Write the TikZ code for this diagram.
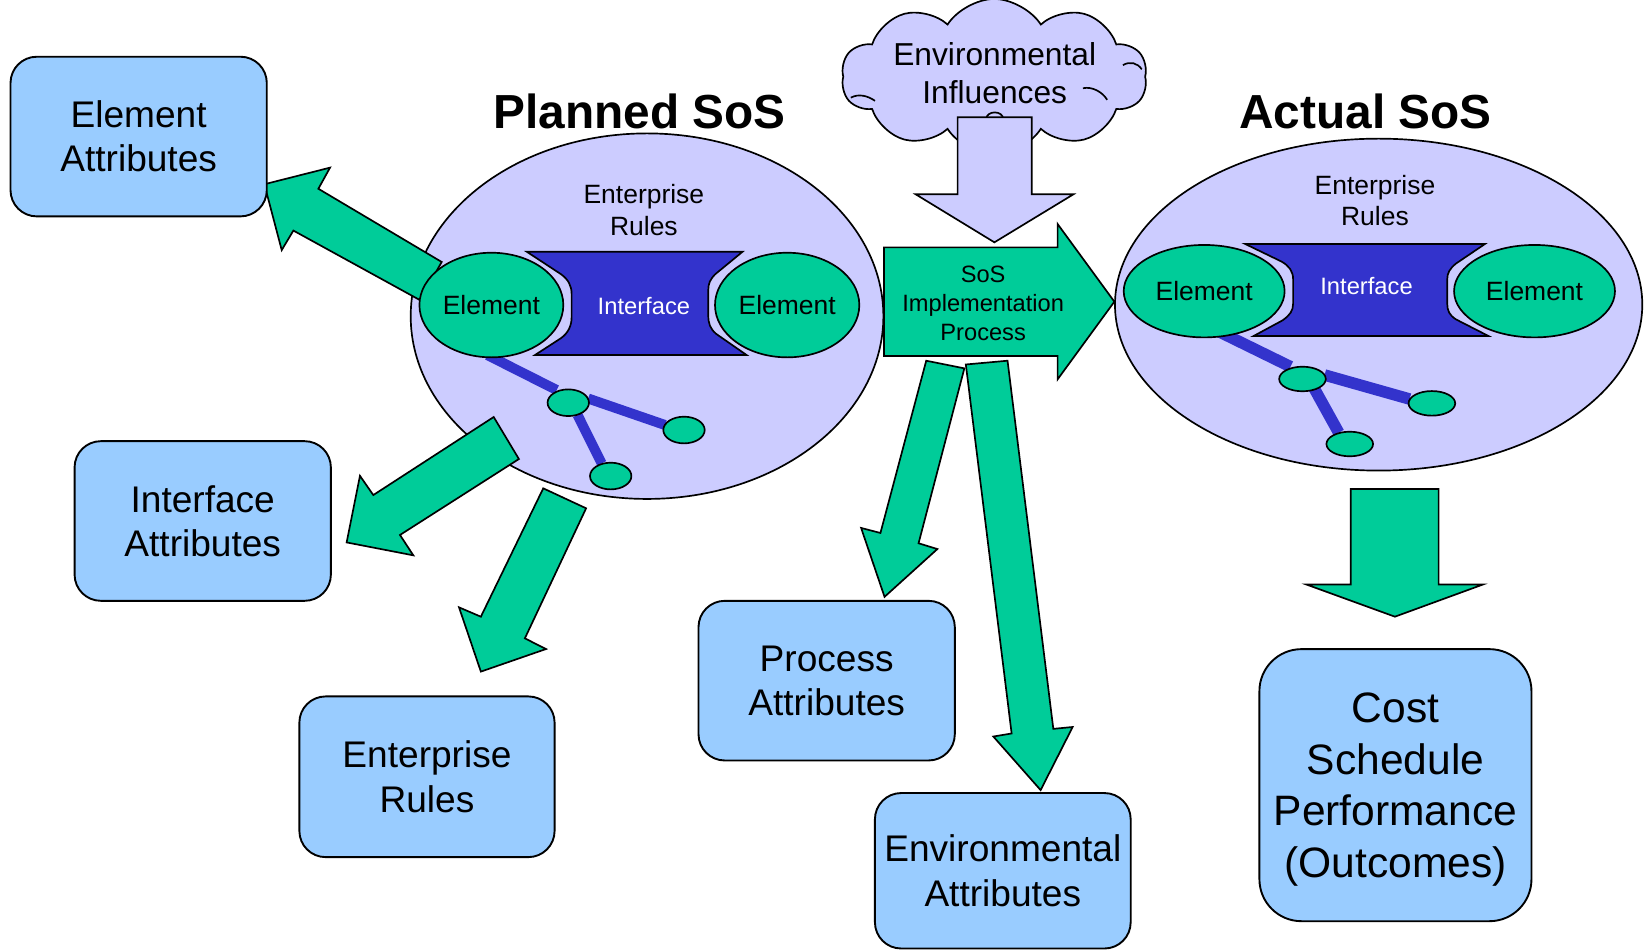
\documentclass[tikz,border=0pt]{standalone}
\usepackage{fontspec}
\setmainfont{Liberation Sans}
\usetikzlibrary{shapes.geometric,shapes.symbols}
\definecolor{boxblue}{HTML}{99CCFF}
\definecolor{sosgreen}{HTML}{00CC99}
\definecolor{lav}{HTML}{CCCCFF}
\definecolor{ifblue}{HTML}{3333CC}
\newcommand\bxfont{\fontsize{17.65}{21}\selectfont}
\newcommand\cstfont{\fontsize{20.25}{24.5}\selectfont}
\newcommand\ttlfont{\fontsize{22.75}{27}\selectfont\bfseries}
\newcommand\smfont{\fontsize{12.6}{15}\selectfont}
\newcommand\iffont{\fontsize{11.3}{13.5}\selectfont}
\newcommand\sosfont{\fontsize{11.25}{13.75}\selectfont}
\newcommand\cldfont{\fontsize{15.1}{18}\selectfont}
\tikzset{
  box/.style={draw=black, line width=0.9pt, fill=boxblue, rounded corners=12.5pt,
    minimum width=122pt, minimum height=76pt, align=center, inner sep=0pt, font=\bxfont},
  bigell/.style={ellipse, draw=black, line width=0.8pt, fill=lav, inner sep=0pt},
  elem/.style={ellipse, draw=black, line width=0.8pt, fill=sosgreen, inner sep=0pt, font=\smfont},
  blockarrow/.style={draw=black, line width=0.8pt, fill=sosgreen},
  lavarrow/.style={draw=black, line width=0.8pt, fill=lav},
  iface/.style={draw=black, line width=0.8pt, fill=ifblue},
  pbar/.style={draw=ifblue, line width=4.75pt, line cap=butt},
  abar/.style={draw=ifblue, line width=5.5pt, line cap=butt},
  lbl/.style={inner sep=0pt, align=center},
  cloudarc/.style={draw=black, line width=0.8pt}
}
\begin{document}
\begin{tikzpicture}[x=0.5pt, y=-0.5pt]
\useasboundingbox (0,0) rectangle (1568,905);

% ---------- Planned SoS ----------
\node[bigell, minimum width=225pt, minimum height=174pt] (planned) at (616,301) {};
% arrows leaving planned SoS
\draw[blockarrow] (420.5,249.4) -- (303.1,179.7) -- (314.2,159.6) -- (251.7,175.4) -- (268.2,238.1) -- (279.3,219.5) -- (399.8,285.7) -- cycle;
\draw[blockarrow] (470,397) -- (355.4,471.3) -- (342.7,453) -- (330,516.4) -- (393.5,528.7) -- (380.8,509.3) -- (494,437) -- cycle;
\draw[blockarrow] (517.2,464.9) -- (457.8,587.1) -- (437,578.2) -- (457.8,639.4) -- (519.8,617.9) -- (499.7,607.7) -- (558,483.9) -- cycle;
% bars
\draw[pbar] (464,338) -- (530,371.3);
\draw[pbar] (560,379.4) -- (633.1,404.6);
\draw[pbar] (549.8,395) -- (572.8,441.1);
% interface
\draw[iface] (501.4,239.6) -- (707,239.6) -- (681,261) .. controls (676,266) and (674.3,270) .. (674.3,276) -- (674.3,300) .. controls (674.3,308) and (676,313) .. (682,318) -- (710.8,338) -- (509.3,338) -- (534,322) .. controls (541,317) and (544.2,310) .. (544.2,302) -- (544.2,280) .. controls (544.2,272) and (541,266) .. (534,261) -- cycle;
\node[lbl, text=white, font=\iffont] (pif) at (613,291) {Interface};
\node[elem, minimum width=68.5pt, minimum height=49.8pt] (pel1) at (467.8,290.4) {Element};
\node[elem, minimum width=68.7pt, minimum height=49.8pt] (pel2) at (749.4,290.4) {Element};
\node[elem, minimum width=19.7pt, minimum height=12.7pt] (ps1) at (541,383.4) {};
\node[elem, minimum width=19.7pt, minimum height=12.7pt] (ps2) at (651.2,409.4) {};
\node[elem, minimum width=19.7pt, minimum height=12.7pt] (ps3) at (581.4,453.2) {};
\node[lbl, font=\smfont] (per) at (613,200) {Enterprise\\Rules};
\node[lbl, font=\ttlfont] (ptitle) at (609,106) {Planned SoS};

% ---------- Environmental influences ----------
\node[cloud, draw=black, line width=0.8pt, fill=lav, cloud puffs=10, cloud puff arc=115, aspect=2.3,
      minimum width=145.5pt, minimum height=74pt, inner sep=0pt] (cloud) at (946.5,73) {};
\draw[cloudarc] (810,93) .. controls (817,89) and (826,91) .. (833,96);
\draw[cloudarc] (1031,84) .. controls (1040,82) and (1050,88) .. (1054,95);
\draw[cloudarc] (1069,62) .. controls (1076,58) and (1083,60) .. (1087,66);
\node[lbl, font=\cldfont] (cloudtxt) at (947,70) {Environmental\\Influences};
\node[ellipse, draw=black, line width=0.8pt, fill=lav, minimum width=8pt, minimum height=6pt, inner sep=0pt] (bubble) at (947,113) {};
\draw[lavarrow] (911.7,111.7) -- (911.7,185) -- (871.8,185) -- (946.7,230.7) -- (1021.9,185) -- (982.2,185) -- (982.2,111.7) -- cycle;

% ---------- SoS implementation process ----------
\draw[blockarrow] (841.6,235.5) -- (1006.9,235.5) -- (1006.9,213.3) -- (1060.9,287.2) -- (1006.9,361.1) -- (1006.9,338.9) -- (841.6,338.9) -- cycle;
\node[lbl, font=\sosfont] (sostxt) at (936,289) {SoS\\Implementation\\Process};
\draw[blockarrow] (881.8,343.4) -- (838.2,507.4) -- (819.8,502.6) -- (842.1,568.2) -- (892.4,522.7) -- (874.5,517.2) -- (918.1,350.7) -- cycle;
\draw[blockarrow] (919.5,347) -- (963.1,698.3) -- (945.7,701.2) -- (990.7,752.2) -- (1021.2,692.1) -- (1002.8,693.9) -- (959.2,343.4) -- cycle;

% ---------- Actual SoS ----------
\node[bigell, minimum width=251pt, minimum height=158pt] (actual) at (1312.5,290) {};
\draw[abar] (1157,314) -- (1228.6,349.1);
\draw[abar] (1261,357) -- (1342,379.9);
\draw[abar] (1251,369.5) -- (1274.5,411.9);
\draw[iface] (1185.5,232.3) -- (1413.7,232.3) -- (1386,251) .. controls (1380,256) and (1377.8,260) .. (1377.8,266) -- (1377.8,289) .. controls (1377.8,296) and (1380,300) .. (1386,304) -- (1416.9,319.8) -- (1193.6,319.8) -- (1221,305) .. controls (1228,300) and (1231.1,296) .. (1231.1,289) -- (1231.1,266) .. controls (1231.1,258) and (1227,253) .. (1220,249) -- cycle;
\node[lbl, text=white, font=\iffont] (aif) at (1301,272) {Interface};
\node[elem, minimum width=76.6pt, minimum height=44pt] (ael1) at (1146.4,277.2) {Element};
\node[elem, minimum width=76.6pt, minimum height=44pt] (ael2) at (1460.9,277.2) {Element};
\node[elem, minimum width=22.2pt, minimum height=11.7pt] (as1) at (1240,360.8) {};
\node[elem, minimum width=22.2pt, minimum height=11.7pt] (as2) at (1363.2,384) {};
\node[elem, minimum width=22.2pt, minimum height=11.7pt] (as3) at (1285,422.7) {};
\node[lbl, font=\smfont] (aer) at (1309,191) {Enterprise\\Rules};
\node[lbl, font=\ttlfont] (atitle) at (1300,106) {Actual SoS};
\draw[blockarrow] (1285.9,465.5) -- (1285.9,556.5) -- (1243.8,556.5) -- (1328,587.1) -- (1411.7,556.5) -- (1369.6,556.5) -- (1369.6,465.5) -- cycle;

% ---------- Attribute boxes ----------
\node[box] (elattr) at (132,130) {Element\\Attributes};
\node[box] (ifattr) at (193,496) {Interface\\Attributes};
\node[box, minimum width=121.5pt, minimum height=76.5pt] (erbox) at (406.5,739.5) {Enterprise\\Rules};
\node[box] (prattr) at (787,648) {Process\\Attributes};
\node[box, minimum width=121.75pt, minimum height=74pt] (envattr) at (954.7,829) {Environmental\\Attributes};
\node[box, rounded corners=20pt, minimum width=129.5pt, minimum height=129.5pt] (cost) at (1328.5,747.5) {};
\node[lbl, font=\cstfont] (costtxt) at (1328.5,751.5) {Cost\\Schedule\\Performance\\(Outcomes)};
\end{tikzpicture}
\end{document}
